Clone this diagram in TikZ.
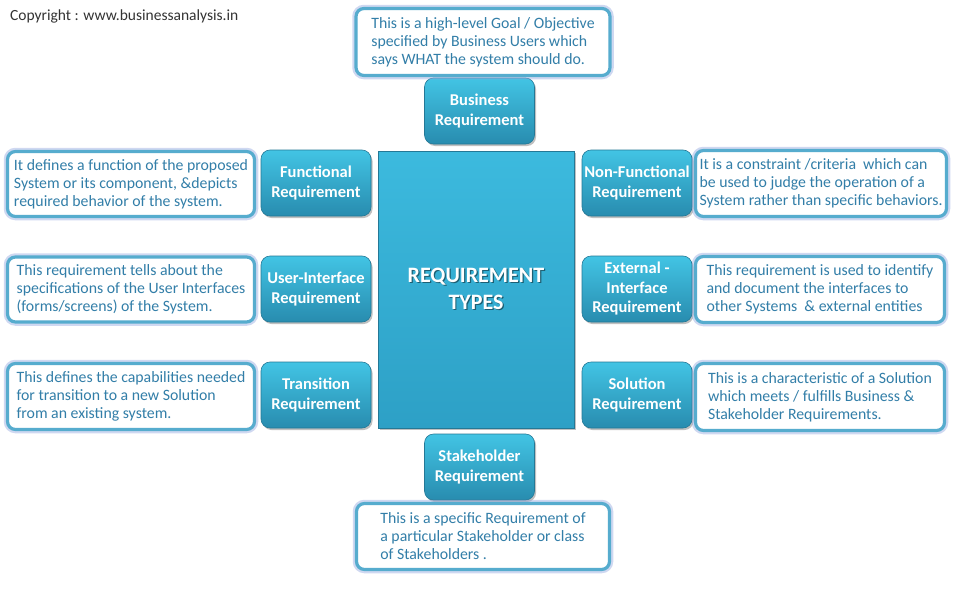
\documentclass[tikz,border=0pt]{standalone}
\usepackage{fontspec}
\setmainfont{Carlito}
\usetikzlibrary{shadows,shadings}
\definecolor{boxtop}{RGB}{66,196,228}
\definecolor{boxbot}{RGB}{40,140,175}
\definecolor{boxedge}{RGB}{36,120,150}
\definecolor{descedge}{RGB}{86,172,206}
\definecolor{descglow}{RGB}{150,170,225}
\definecolor{desctext}{RGB}{50,126,168}
\definecolor{ctrfill}{RGB}{60,186,222}
\definecolor{ctrbot}{RGB}{45,160,198}
\tikzset{
  reqbox/.style={rounded corners=9pt, top color=boxtop, bottom color=boxbot,
    draw=boxedge, line width=0.6pt, minimum width=110pt, minimum height=66pt,
    text=white, font=\fontsize{16.5}{19.5}\selectfont\bfseries, align=center,
    inner sep=0pt,
    drop shadow={shadow xshift=1.5pt, shadow yshift=-2pt, opacity=0.35, fill=black!70}},
  descbox/.style={rounded corners=8pt, fill=white, draw=descedge, line width=3.2pt,
    text=desctext, font=\fontsize{15.8}{18}\selectfont, align=left,
    inner xsep=2pt, inner ysep=0pt,
    preaction={draw=descglow, line width=7.5pt, opacity=0.45}},
  ctrbox/.style={top color=ctrfill, bottom color=ctrbot, draw=boxedge, line width=0.8pt,
    minimum width=196pt, minimum height=277pt, inner sep=0pt,
    drop shadow={shadow xshift=1.5pt, shadow yshift=-2pt, opacity=0.35, fill=black!70}},
  ctrtext/.style={text=white, font=\fontsize{22}{27}\selectfont\bfseries, align=center},
  copytext/.style={text=black!80, font=\fontsize{15.5}{18}\selectfont, anchor=west, inner sep=0pt}
}
\begin{document}
\begin{tikzpicture}[x=1pt,y=-1pt]
\useasboundingbox (0,0) rectangle (953,589);
\fill[white] (0,0) rectangle (953,589);

\node[copytext] (copy) at (10,16) {Copyright : www.businessanalysis.in};

% centre
\node[ctrbox] (ctr) at (476,289.5) {};
\node[ctrtext, text=black, opacity=0.45] (ctrsh) at (477.2,290.2) {REQUIREMENT\\TYPES};
\node[ctrtext] (ctrt) at (476,289) {REQUIREMENT\\TYPES};

% requirement boxes
\node[reqbox] (biz) at (479.5,111) {Business\\Requirement};
\node[reqbox] (func) at (316,183) {Functional\\Requirement};
\node[reqbox] (nf) at (637,183) {Non-Functional\\Requirement};
\node[reqbox] (ui) at (316,289) {User-Interface\\Requirement};
\node[reqbox] (ext) at (637,289) {External -\\Interface\\Requirement};
\node[reqbox] (trans) at (316,395) {Transition\\Requirement};
\node[reqbox] (sol) at (637,395) {Solution\\Requirement};
\node[reqbox] (stake) at (479.5,467) {Stakeholder\\Requirement};

% description boxes
\node[descbox, minimum width=254pt, minimum height=67pt] (bizd) at (483,42)
  {This is a high-level Goal / Objective\\specified by Business Users which\\says WHAT the system should do.};
\node[descbox, minimum width=247pt, minimum height=65pt] (funcd) at (131,184)
  {It defines a function of the proposed\\System or its component, \&depicts\\required behavior of the system.};
\node[descbox, minimum width=251pt, minimum height=66pt] (nfd) at (821,183.5)
  {It is a constraint /criteria\ \ which can\\be used to judge the operation of a\\System rather than specific behaviors.};
\node[descbox, minimum width=247pt, minimum height=65pt] (uid) at (131,289.5)
  {This requirement tells about the\\specifications of the User Interfaces\\(forms/screens) of the System.};
\node[descbox, minimum width=249pt, minimum height=66pt] (extd) at (820,289.5)
  {This requirement is used to identify\\and document the interfaces to\\other Systems\ \ \& external entities};
\node[descbox, minimum width=247pt, minimum height=66pt] (transd) at (131,396.5)
  {This defines the capabilities needed\\for transition to a new Solution\\from an existing system.};
\node[descbox, minimum width=249pt, minimum height=67pt] (sold) at (820,397)
  {This is a characteristic of a Solution\\which meets / fulfills Business \&\\Stakeholder Requirements.};
\node[descbox, minimum width=253pt, minimum height=66pt] (staked) at (483,536.5)
  {This is a specific Requirement of\\a particular Stakeholder or class\\of Stakeholders .};
\end{tikzpicture}
\end{document}
